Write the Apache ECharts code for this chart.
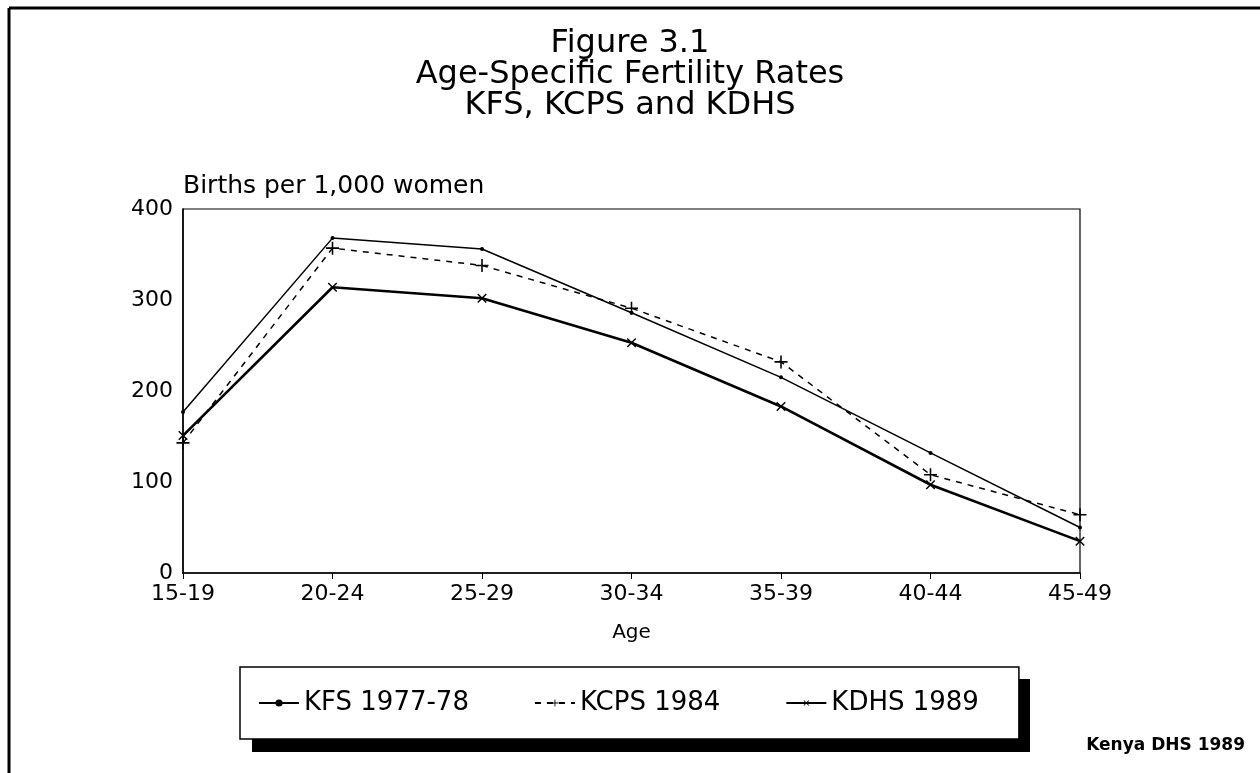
<!DOCTYPE html>
<html>
<head>
<meta charset="utf-8">
<script src="https://cdn.jsdelivr.net/npm/echarts@6/dist/echarts.min.js"></script>
<style>
	html, body { margin: 0; padding: 0; background: #fff; }
	#chart { width: 1260px; height: 773px; }
</style>
</head>
<body>
<div id="chart"></div>
<script>
// age groups on the x axis
const ageGroups = ['15-19', '20-24', '25-29', '30-34', '35-39', '40-44', '45-49']

// births per 1,000 women
const kfs = [177, 368, 356, 286, 215, 132, 50]
const kcps = [143, 357, 338, 291, 232, 108, 64]
const kdhs = [151, 314, 302, 253, 183, 97, 35]

const seriesNames = ['KFS 1977-78', 'KCPS 1984', 'KDHS 1989']
const yTicks = [0, 100, 200, 300, 400]

const font = 'DejaVu Sans'
const plus = 'path://M4.4,0h1.2v10h-1.2z M0,4.4h10v1.2h-10z'

const chart = echarts.init(document.getElementById('chart'))

const option = {
	backgroundColor: '#fff',
	animation: false,
	title: {
		text: 'Figure 3.1\nAge-Specific Fertility Rates\nKFS, KCPS and KDHS',
		left: 'center',
		top: 23,
		textStyle: {
			fontFamily: font,
			fontSize: 32,
			fontWeight: 'normal',
			lineHeight: 31,
			color: '#000',
			align: 'center',
		},
	},
	grid: {
		left: 183,
		right: 180,
		top: 209,
		bottom: 200,
		show: true,
		borderColor: '#000',
		borderWidth: 1.2,
		backgroundColor: 'transparent',
	},
	legend: {
		data: seriesNames,
		left: 240,
		top: 667,
		z: 10,
		orient: 'horizontal',
		padding: [23, 40, 23, 18],
		itemGap: 65,
		itemWidth: 40,
		itemHeight: 9,
		backgroundColor: '#fff',
		borderColor: '#000',
		borderWidth: 1.5,
		borderRadius: 0,
		textStyle: {
			fontFamily: font,
			fontSize: 26,
			color: '#000',
		},
	},
	xAxis: {
		type: 'category',
		data: ageGroups,
		boundaryGap: false,
		name: 'Age',
		nameLocation: 'middle',
		nameGap: 50,
		nameTextStyle: { fontFamily: font, fontSize: 20, color: '#000' },
		axisLine: { lineStyle: { color: '#000', width: 1.5 } },
		axisTick: { show: true, length: 6, lineStyle: { color: '#000' } },
		axisLabel: { fontFamily: font, fontSize: 22, color: '#000', margin: 10 },
		splitLine: { show: false },
	},
	yAxis: {
		type: 'value',
		min: yTicks[0],
		max: yTicks[yTicks.length - 1],
		interval: 100,
		name: 'Births per 1,000 women',
		nameLocation: 'end',
		nameGap: 10,
		nameTextStyle: {
			fontFamily: font,
			fontSize: 25,
			color: '#000',
			align: 'left',
			verticalAlign: 'bottom',
		},
		axisLine: { show: true, lineStyle: { color: '#000', width: 1.5 } },
		axisTick: { show: false },
		axisLabel: { fontFamily: font, fontSize: 22, color: '#000', margin: 10 },
		splitLine: { show: false },
	},
	series: [
		{
			name: seriesNames[0],
			type: 'line',
			data: kfs,
			symbol: 'circle',
			symbolSize: 4,
			itemStyle: { color: '#000' },
			lineStyle: { color: '#000', width: 1.5 },
		},
		{
			name: seriesNames[1],
			type: 'line',
			data: kcps,
			symbol: plus,
			symbolSize: 13,
			itemStyle: { color: '#000' },
			lineStyle: { color: '#000', width: 1.5, type: [6, 6] },
		},
		{
			name: seriesNames[2],
			type: 'line',
			data: kdhs,
			symbol: plus,
			symbolSize: 12,
			symbolRotate: 45,
			itemStyle: { color: '#000' },
			lineStyle: { color: '#000', width: 2.6 },
		},
	],
	graphic: [
		// outer frame of the page (only top and left edges show)
		{ type: 'line', shape: { x1: 9, y1: 8, x2: 1260, y2: 8 }, style: { stroke: '#000', lineWidth: 3 } },
		{ type: 'line', shape: { x1: 9, y1: 8, x2: 9, y2: 773 }, style: { stroke: '#000', lineWidth: 3 } },
		// solid drop shadow behind the legend box
		{ type: 'rect', z: 0, shape: { x: 252, y: 679, width: 778, height: 73 }, style: { fill: '#000' } },
		{
			type: 'text',
			right: 15,
			top: 737,
			style: {
				text: 'Kenya DHS 1989',
				font: 'bold 17px "DejaVu Sans"',
				fill: '#000',
			},
		},
	],
}

chart.setOption(option)
</script>
</body>
</html>
